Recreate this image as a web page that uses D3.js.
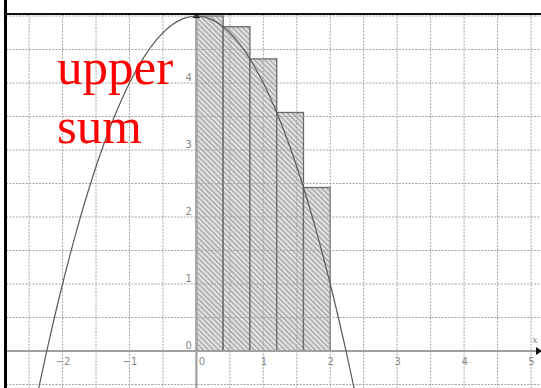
<!DOCTYPE html>
<html><head><meta charset="utf-8">
<script src="https://cdn.jsdelivr.net/npm/d3@7"></script>
<style>html,body{margin:0;padding:0;background:#fff;}svg{display:block;}</style>
</head><body>
<script>
// data
const xTickValues = [-2, -1, 0, 1, 2, 3, 4, 5];
const yTickValues = [0, 1, 2, 3, 4];
const gridXValues = [-2.5, -2, -1.5, -1, -0.5, 0, 0.5, 1, 1.5, 2, 2.5, 3, 3.5, 4, 4.5, 5];
const gridYValues = [-0.5, 0, 0.5, 1, 1.5, 2, 2.5, 3, 3.5, 4, 4.5, 5];
const rectLeft = [0, 0.4, 0.8, 1.2, 1.6];
const rectRight = [0.4, 0.8, 1.2, 1.6, 2.0];
const rectHeight = [5, 4.84, 4.36, 3.56, 2.44];
const curveX = [-2.4, -2.2, -2.0, -1.8, -1.6, -1.4, -1.2, -1.0, -0.8, -0.6, -0.4, -0.2, 0, 0.2, 0.4, 0.6, 0.8, 1.0, 1.2, 1.4, 1.6, 1.8, 2.0, 2.2, 2.4];
const curveY = [-0.76, 0.16, 1.0, 1.76, 2.44, 3.04, 3.56, 4.0, 4.36, 4.64, 4.84, 4.96, 5, 4.96, 4.84, 4.64, 4.36, 4.0, 3.56, 3.04, 2.44, 1.76, 1.0, 0.16, -0.76];
const labelLines = ["upper", "sum"];

const W = 541, H = 388;
const svg = d3.select("body").append("svg").attr("width", W).attr("height", H);

const x = d3.scaleLinear().domain([0, 5]).range([196.4, 531]);
const y = d3.scaleLinear().domain([0, 5]).range([351, 16]);

const defs = svg.append("defs");
const P = 3.6;
const pat = defs.append("pattern").attr("id", "hatch").attr("patternUnits", "userSpaceOnUse")
  .attr("width", P).attr("height", P).attr("patternTransform", "rotate(-45)");
pat.append("rect").attr("width", P).attr("height", P).attr("fill", "#e4e4e4");
pat.append("line").attr("x1", 0.8).attr("y1", 0).attr("x2", 0.8).attr("y2", P)
  .attr("stroke", "#8c8c8c").attr("stroke-width", 1);
defs.append("clipPath").attr("id", "plotclip").append("rect")
  .attr("x", 6).attr("y", 14).attr("width", W - 6).attr("height", H - 14);

const plot = svg.append("g").attr("clip-path", "url(#plotclip)");

// rectangles (upper sum)
plot.append("g").selectAll("rect").data(rectLeft).join("rect")
  .attr("x", (d) => x(d))
  .attr("y", (d, i) => y(rectHeight[i]))
  .attr("width", (d, i) => x(rectRight[i]) - x(d))
  .attr("height", (d, i) => y(0) - y(rectHeight[i]))
  .attr("fill", "url(#hatch)")
  .attr("stroke", "#6a6a6a").attr("stroke-width", 1.3);

// grid
const grid = plot.append("g").attr("stroke", "#a4a4a4").attr("stroke-width", 1)
  .attr("stroke-dasharray", "2,1.3");
grid.selectAll("line.v").data(gridXValues).join("line").attr("class", "v")
  .attr("x1", (d) => x(d)).attr("x2", (d) => x(d)).attr("y1", 14).attr("y2", H);
grid.selectAll("line.h").data(gridYValues).join("line").attr("class", "h")
  .attr("y1", (d) => y(d)).attr("y2", (d) => y(d)).attr("x1", 6).attr("x2", W);

// axes
const xAxis = d3.axisBottom(x).tickValues(xTickValues).tickSize(0).tickFormat(d3.format("d"));
const gx = plot.append("g").attr("transform", `translate(0,${y(0)})`).call(xAxis);
gx.select(".domain").remove();
gx.selectAll("text").attr("fill", "#888").attr("font-family", "DejaVu Sans, sans-serif")
  .attr("font-size", 10).attr("dx", (d) => d === 0 ? 5 : 0).attr("dy", "1.05em")
  .text((d) => d < 0 ? "\u2212" + Math.abs(d) : d);
plot.append("line").attr("x1", 6).attr("x2", W).attr("y1", y(0)).attr("y2", y(0))
  .attr("stroke", "#a0a0a0").attr("stroke-width", 2.2);

const yAxis = d3.axisLeft(y).tickValues(yTickValues).tickSize(0).tickFormat(d3.format("d"));
const gy = plot.append("g").attr("transform", `translate(${x(0)},0)`).call(yAxis);
gy.select(".domain").remove();
gy.selectAll("text").attr("fill", "#888").attr("font-family", "DejaVu Sans, sans-serif")
  .attr("font-size", 10).attr("dx", -1.5).attr("dy", "-0.3em");
plot.append("line").attr("x1", x(0)).attr("x2", x(0)).attr("y1", y(5)).attr("y2", H)
  .attr("stroke", "#a0a0a0").attr("stroke-width", 2.2);

// arrows
plot.append("path").attr("d", `M${x(0) - 4},${y(5) + 2} L${x(0)},${y(5) - 3} L${x(0) + 4},${y(5) + 2} Z`)
  .attr("fill", "#111");
plot.append("path").attr("d", `M${W - 5},${y(0) - 4} L${W + 1},${y(0)} L${W - 5},${y(0) + 4} Z`)
  .attr("fill", "#111");
plot.append("text").attr("x", 535).attr("y", y(0) - 8).attr("text-anchor", "middle")
  .attr("font-family", "DejaVu Serif, serif").attr("font-style", "italic")
  .attr("font-size", 10).attr("fill", "#888").text("x");

// curve
const line = d3.line().x((d, i) => x(curveX[i])).y((d, i) => y(curveY[i])).curve(d3.curveCatmullRom);
plot.append("path").datum(curveX).attr("d", line)
  .attr("fill", "none").attr("stroke", "#5a5a5a").attr("stroke-width", 1.2);

// label
svg.append("g").selectAll("text").data(labelLines).join("text")
  .attr("x", 57).attr("y", (d, i) => 84 + i * 59)
  .attr("font-family", "Liberation Serif, Times New Roman, serif")
  .attr("font-size", 51).attr("fill", "#ff0000").text((d) => d);

// borders
svg.append("line").attr("x1", 5).attr("x2", W).attr("y1", 14).attr("y2", 14)
  .attr("stroke", "#111").attr("stroke-width", 2);
svg.append("line").attr("x1", 5.5).attr("x2", 5.5).attr("y1", 0).attr("y2", H)
  .attr("stroke", "#000").attr("stroke-width", 3);
</script>
</body></html>
